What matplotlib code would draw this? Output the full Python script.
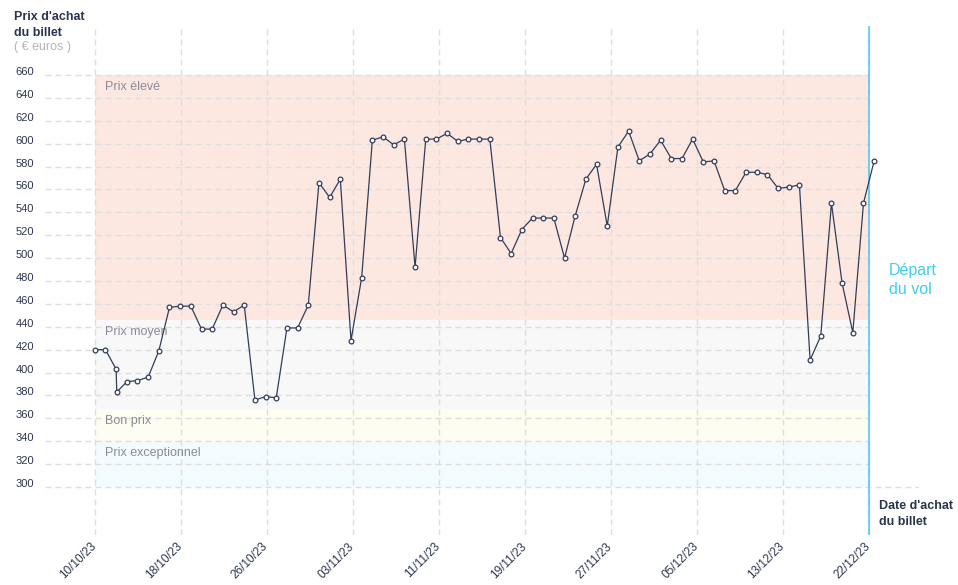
import numpy as np
import matplotlib
matplotlib.use('Agg')
import matplotlib.pyplot as plt
from matplotlib.transforms import ScaledTranslation

plt.rcParams['font.family'] = ['Liberation Sans', 'DejaVu Sans']

# daily purchase prices, 10/10/23 -> 22/12/23 (two readings on 12/10)
purchase_day = np.insert(np.arange(74.0), 3, 2.06)
price = [420, 420, 403, 383, 392, 393, 396, 419, 457, 458,
         458, 438, 438, 459, 453, 459, 376, 379, 378, 439,
         439, 459, 566, 553, 569, 428, 483, 603, 606, 599,
         604, 492, 604, 604, 609, 602, 604, 604, 604, 518,
         504, 525, 535, 535, 535, 500, 537, 569, 582, 528,
         597, 611, 585, 591, 603, 587, 587, 604, 584, 585,
         559, 559, 575, 575, 573, 561, 562, 564, 411, 432,
         548, 478, 435, 548, 585]

tick_labels = ['10/10/23', '18/10/23', '26/10/23', '03/11/23', '11/11/23',
               '19/11/23', '27/11/23', '05/12/23', '13/12/23', '22/12/23']
depart = 72.56  # departure marker

band_names = ['Prix exceptionnel', 'Bon prix', 'Prix moyen', 'Prix élevé']
band_low = [300, 340, 368, 446]
band_high = [340, 368, 446, 660]
band_colors = ['#f2fbfd', '#fdfdf2', '#f8f8f8', '#fde7e1']

navy = '#2b3550'
grid_c = '#dedede'

fig = plt.figure(figsize=(9.58, 5.85), dpi=100)
ax = fig.add_axes([45/958, 50/585, 874/958, 509/585])
x0, x1 = -4.66, 77.2
ax.set_xlim(x0, x1)
ax.set_ylim(258.1, 702.8)

# price bands
for name, lo, hi, c in zip(band_names, band_low, band_high, band_colors):
    ax.fill_between([0, depart], lo, hi, color=c, lw=0, zorder=0)
    ax.annotate(name, (0, hi), xytext=(7.3, -8.6), textcoords='offset points',
                va='center', ha='left', fontsize=9, color='#8a8d99', zorder=1)

# grid
yt = np.arange(300, 661, 20)
ax.hlines(yt[1:], x0, depart, colors=grid_c, lw=1, linestyles=(0, (4.3, 2.9)), zorder=0.5)
ax.hlines(300, x0, x1, colors=grid_c, lw=1, linestyles=(0, (4.3, 2.9)), zorder=0.5)
xt = np.linspace(0, depart, 10)
ax.vlines(xt, 258.1, 702.8, colors=grid_c, lw=1, linestyles=(0, (4.3, 2.9)), zorder=0.5)

ax.axvline(depart, color='#45c8ee', lw=1.1, zorder=2)

ax.plot(purchase_day, price, color='#323d58', lw=0.9, marker='o', ms=3.4,
        mfc='white', mec='#323d58', mew=0.9, zorder=3)

for s in ax.spines.values():
    s.set_visible(False)

ax.set_yticks(yt)
ax.set_yticklabels([str(v) for v in yt])
ax.tick_params(axis='y', length=0, pad=21, labelsize=8, labelcolor=navy)
for lab in ax.get_yticklabels():
    lab.set_horizontalalignment('left')
    lab.set_transform(lab.get_transform() + ScaledTranslation(0, 4/100, fig.dpi_scale_trans))

ax.set_xticks(xt)
ax.set_xticklabels(tick_labels, rotation=45, ha='right', va='top', rotation_mode='anchor')
ax.tick_params(axis='x', length=0, pad=4, labelsize=8.5, labelcolor=navy)
for lab in ax.get_xticklabels():
    lab.set_transform(lab.get_transform() + ScaledTranslation(-5/100, 0, fig.dpi_scale_trans))

# axis titles
fig.text(14/958, 1 - 11/585, "Prix d'achat\ndu billet", fontsize=9, fontweight='bold',
         color=navy, va='top', ha='left', linespacing=1.45)
fig.text(14/958, 1 - 47/585, "( € euros )", fontsize=9, color='#b5b5b5', va='center', ha='left')
fig.text(879/958, 1 - 500/585, "Date d'achat\ndu billet", fontsize=9, fontweight='bold',
         color=navy, va='top', ha='left', linespacing=1.4)
fig.text(889/958, 1 - 263/585, "Départ\ndu vol", fontsize=11.5, color='#3fcdf5',
         va='top', ha='left', linespacing=1.3)

fig.savefig('out.png', dpi=100)
